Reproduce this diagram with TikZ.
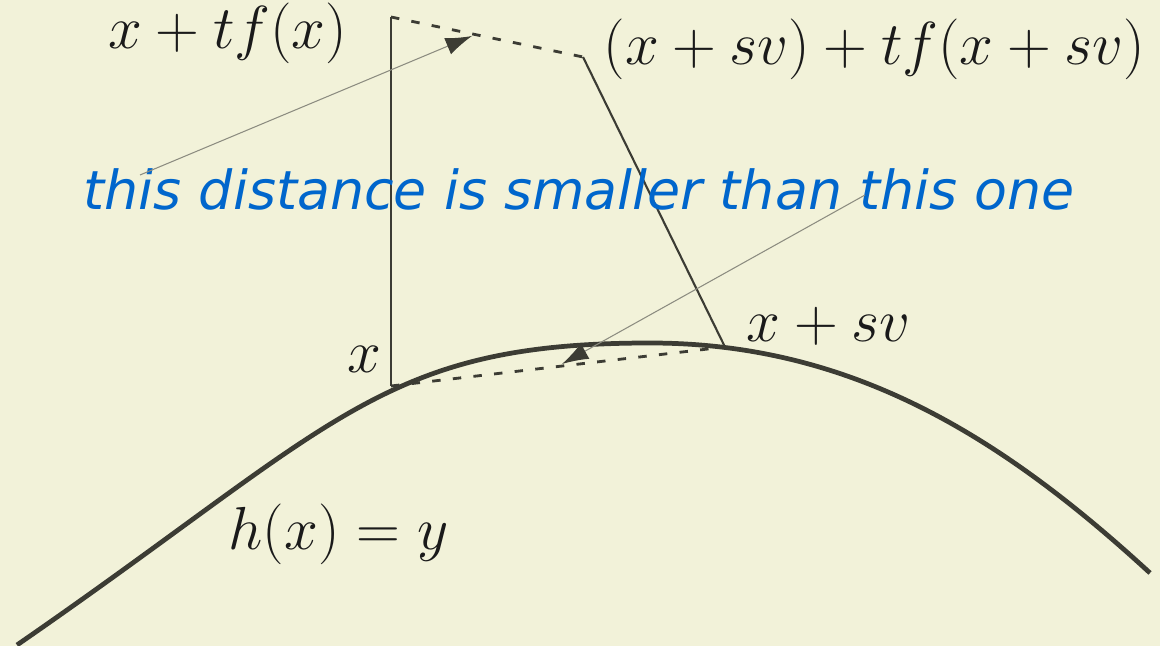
\documentclass[tikz,border=0pt]{standalone}
\usepackage{fontspec}
\usepackage{tikz}
\usetikzlibrary{arrows.meta, positioning, calc}
\newfontfamily\notefont{DejaVu Sans}
\definecolor{BgColor}{HTML}{F2F2D9}
\definecolor{LineDark}{HTML}{3C3C34}
\definecolor{PointerGray}{HTML}{8C8C80}
\definecolor{NoteBlue}{HTML}{0066CC}
\definecolor{TextDark}{HTML}{1A1A1A}

\begin{document}
\begin{tikzpicture}[
        x=0.01cm, y=-0.01cm,
        lbl/.style={inner sep=0pt, font=\LARGE, text=TextDark},
        note/.style={inner sep=0pt, font=\fontsize{15.3}{18}\selectfont\notefont\itshape, text=NoteBlue},
        graphline/.style={line width=1.35pt, LineDark},
        segline/.style={line width=0.6pt, LineDark},
        dashline/.style={line width=0.8pt, LineDark, dash pattern=on 2.4pt off 3.5pt},
        pointer/.style={line width=0.3pt, PointerGray, -{Latex[length=7.5pt, width=5pt, color=LineDark]}}
      ]
        \fill[BgColor] (0,0) rectangle (1160,646);
        \useasboundingbox (0,0) rectangle (1160,646);

        % graph of h
        \coordinate (hstart) at (17,645);
        \coordinate (hpeak) at (650,343);
        \coordinate (hend) at (1150,573);
        \draw[graphline] (hstart) .. controls (337,424) and (380,343) .. (hpeak)
                                  .. controls (850,343) and (1000,435) .. (hend);

        \coordinate (x) at (391,386);
        \coordinate (xtop) at (391,17);
        \coordinate (xsv) at (725,347);
        \coordinate (xsvtop) at (583,57);
        \coordinate (tipup) at (472,36);
        \coordinate (tipdown) at (562,364);
        \coordinate (fromleft) at (140,175);
        \coordinate (fromright) at (865,195);

        \draw[segline] (x) -- (xtop);
        \draw[segline] (xsv) -- (xsvtop);
        \draw[dashline] (xtop) -- (xsvtop);
        \draw[dashline] (x) -- (xsv);

        \node[note, anchor=base west] (remark) at (83,210) {this distance is smaller than this one};

        \draw[pointer] (fromleft) -- (tipup);
        \draw[pointer] (fromright) -- (tipdown);

        \node[lbl, anchor=base east] (ltop) at (348,49) {$x+tf(x)$};
        \node[lbl, anchor=base west] (rtop) at (603,65) {$(x+sv)+tf(x+sv)$};
        \node[lbl, anchor=base west] (rbot) at (746,342) {$x+sv$};
        \node[lbl, anchor=base east] (lbot) at (382,373) {$x$};
        \node[lbl, anchor=base west] (hlbl) at (228,550) {$h(x)=y$};
      \end{tikzpicture}
\end{document}
